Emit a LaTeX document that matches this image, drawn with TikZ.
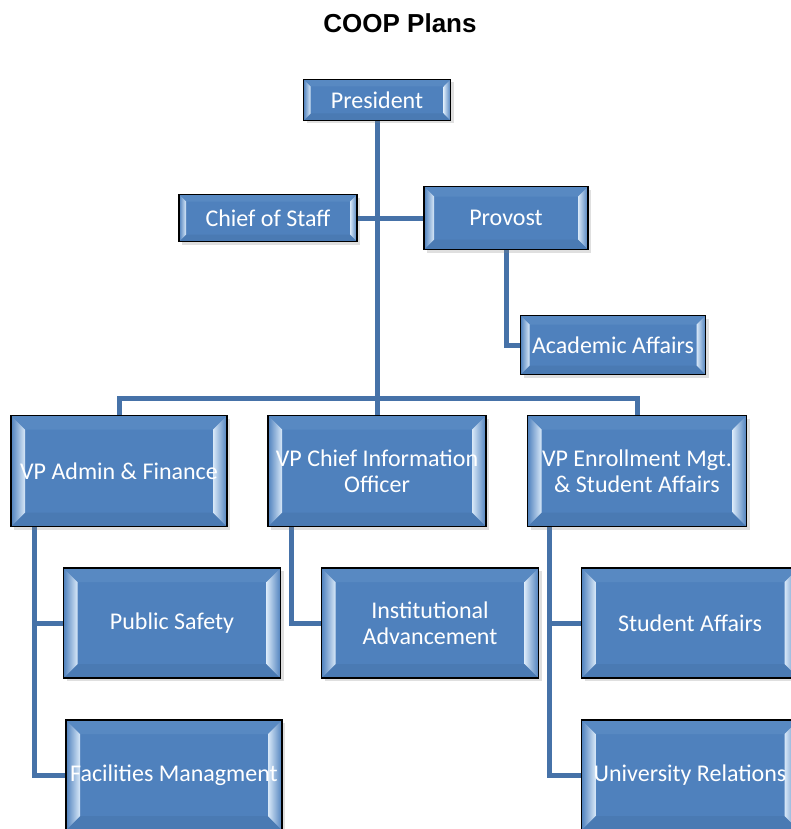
\documentclass[tikz,border=0pt]{standalone}
\usepackage{fontspec}
\setmainfont{Carlito}
\newfontfamily\titlefont{Liberation Sans}
\usetikzlibrary{positioning,shadows,backgrounds}
\definecolor{boxblue}{HTML}{4F81BD}
\definecolor{bevlight}{HTML}{D8E8F8}
\definecolor{bevtop}{HTML}{5889C2}
\definecolor{bevbot}{HTML}{4A7AB3}
\definecolor{linkblue}{HTML}{4672A8}

\begin{document}
\begin{tikzpicture}[x=1pt,y=-1pt,
	bvl/.store in=\bvlw, bvl=8pt,
	bstyle/.style={rectangle, draw=black, line width=1.6pt, fill=boxblue,
	text=white, align=center, inner sep=0pt,
	font=\fontsize{24}{26}\selectfont,
	drop shadow={opacity=0.25, shadow xshift=3pt, shadow yshift=-3pt},
	path picture={
		\fill[bevtop] (path picture bounding box.north west) -- (path picture bounding box.north east)
		-- ([xshift=-\bvlw, yshift=-\bvlw]path picture bounding box.north east)
		-- ([xshift=\bvlw, yshift=-\bvlw]path picture bounding box.north west) -- cycle;
		\fill[bevbot] (path picture bounding box.south west) -- (path picture bounding box.south east)
		-- ([xshift=-\bvlw, yshift=\bvlw]path picture bounding box.south east)
		-- ([xshift=\bvlw, yshift=\bvlw]path picture bounding box.south west) -- cycle;
		\fill[left color=boxblue, right color=bevlight] (path picture bounding box.north west)
		-- ([xshift=\bvlw, yshift=-\bvlw]path picture bounding box.north west)
		-- ([xshift=\bvlw, yshift=\bvlw]path picture bounding box.south west)
		-- (path picture bounding box.south west) -- cycle;
		\fill[left color=bevlight, right color=boxblue] (path picture bounding box.north east)
		-- ([xshift=-\bvlw, yshift=-\bvlw]path picture bounding box.north east)
		-- ([xshift=-\bvlw, yshift=\bvlw]path picture bounding box.south east)
		-- (path picture bounding box.south east) -- cycle;
	}},
	lstyle/.style={draw=linkblue, line width=5pt}
	]
	\useasboundingbox (0,0) rectangle (790,829);
	\draw(400,23)node[font=\titlefont\bfseries\fontsize{26}{30}\selectfont] (title) {COOP Plans};
	\draw(377,100)node[bstyle, minimum width=147pt, minimum height=41pt, bvl=7pt] (pres) {President};
	\draw(268,218)node[bstyle, minimum width=178pt, minimum height=47pt, bvl=7pt] (chief) {Chief of Staff};
	\draw(506,218)node[bstyle, minimum width=164pt, minimum height=63pt, bvl=10pt] (prov) {Provost};
	\draw(613,345)node[bstyle, minimum width=185pt, minimum height=59pt, bvl=9pt] (acad) {Academic Affairs};
	\draw(119,471)node[bstyle, minimum width=216pt, minimum height=111pt, bvl=14pt] (admin) {VP Admin \& Finance};
	\draw(377,471)node[bstyle, minimum width=218pt, minimum height=111pt, bvl=14pt] (cio) {VP Chief Information\\Officer};
	\draw(637,471)node[bstyle, minimum width=219pt, minimum height=111pt, bvl=14pt] (enroll) {VP Enrollment Mgt.\\\& Student Affairs};
	\draw(172,623)node[bstyle, minimum width=217pt, minimum height=110pt, bvl=14pt] (safety) {Public Safety};
	\draw(430,623)node[bstyle, minimum width=217pt, minimum height=110pt, bvl=14pt] (adv) {Institutional\\Advancement};
	\draw(690,623)node[bstyle, minimum width=217pt, minimum height=110pt, bvl=14pt] (stud) {Student Affairs};
	\draw(174,775)node[bstyle, minimum width=216pt, minimum height=110pt, bvl=14pt] (facil) {Facilities Managment};
	\draw(690,775)node[bstyle, minimum width=217pt, minimum height=110pt, bvl=14pt] (univ) {University Relations};
	% connectors
	\begin{scope}[on background layer]
	\coordinate (bar) at (377,398);
	\coordinate (a1) at ([xshift=24pt]admin.south west);
	\coordinate (c1) at ([xshift=24pt]cio.south west);
	\coordinate (e1) at ([xshift=23pt]enroll.south west);
	\draw[lstyle] (pres.south) -- (cio.north);
	\draw[lstyle] (admin.north) |- (bar) -| (enroll.north);
	\draw[lstyle] (chief.east) -- (prov.west);
	\draw[lstyle] (prov.south) |- (acad.west);
	\draw[lstyle] (a1) |- (safety.west);
	\draw[lstyle] (a1) |- (facil.west);
	\draw[lstyle] (c1) |- (adv.west);
	\draw[lstyle] (e1) |- (stud.west);
	\draw[lstyle] (e1) |- (univ.west);
	\end{scope}
\end{tikzpicture}
\end{document}
